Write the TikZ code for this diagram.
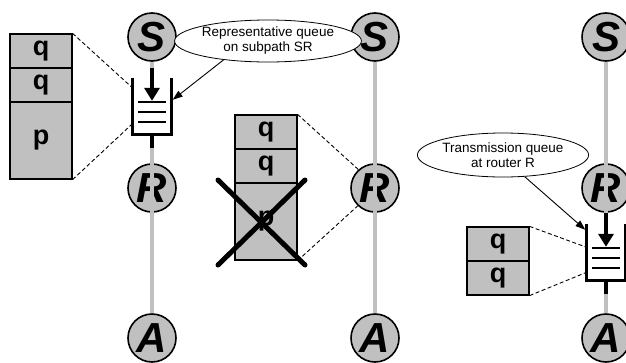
\documentclass[tikz,border=0pt]{standalone}
\usepackage{fontspec}
\setmainfont{Liberation Sans}[
  BoldFont={Liberation Sans Bold},
  ItalicFont={Liberation Sans Italic},
  BoldItalicFont={Liberation Sans Bold Italic}]
\usetikzlibrary{shapes.geometric,arrows.meta}

\definecolor{boxgrey}{RGB}{192,192,192}
\definecolor{pathgrey}{RGB}{192,192,192}

\begin{document}
\begin{tikzpicture}[x=1pt,y=-1pt,
  router/.style={circle,draw=black,line width=1.6pt,fill=boxgrey,minimum size=48pt,inner sep=0pt,
    font=\fontsize{42}{42}\selectfont\bfseries\itshape},
  link/.style={draw=pathgrey,line width=4pt},
  cell/.style={rectangle,draw=black,line width=1.2pt,fill=boxgrey,minimum width=62pt,inner sep=0pt,
    font=\fontsize{27}{27}\selectfont\bfseries},
  qcell/.style={cell,minimum height=34pt},
  pcell/.style={cell,minimum height=77pt},
  qbox/.style={rectangle,fill=white,minimum width=38pt,minimum height=56pt,inner sep=0pt},
  qwall/.style={draw=black,line width=3pt,line join=miter},
  qbar/.style={draw=black,line width=2.4pt},
  qarrow/.style={draw=black,line width=3.4pt,-{Triangle[width=15pt,length=13pt]}},
  stub/.style={draw=black,line width=4pt},
  zoomline/.style={draw=black,line width=0.9pt,dash pattern=on 4pt off 2.5pt},
  bubble/.style={ellipse,draw=black,line width=0.8pt,fill=white,inner sep=0pt,align=center,
    font=\fontsize{13.5}{15}\selectfont},
  pointer/.style={draw=black,line width=0.9pt,-{Triangle[width=7pt,length=10pt]}},
  strike/.style={draw=black,line width=5pt,line cap=round}
]
\useasboundingbox (0,0) rectangle (626,362);

% routers on the three paths
\node[router] (S1) at (152,37) {S};
\node[router] (R1) at (152,188) {R};
\node[router] (A1) at (152,338) {A};
\node[router] (S2) at (375,37) {S};
\node[router] (R2) at (375,188) {R};
\node[router] (A2) at (375,338) {A};
\node[router] (S3) at (606,37) {S};
\node[router] (R3) at (606,188) {R};
\node[router] (A3) at (606,338) {A};

% links between routers
\draw[link] (S1) -- (A1);
\draw[link] (S2) -- (A2);
\draw[link] (S3) -- (A3);

% queue on the first path (subpath SR)
\node[qbox] (Q1) at (152,106) {};
\draw[qwall] (Q1.north west) -- (Q1.south west) -- (Q1.south east) -- (Q1.north east);
\foreach \d in {24,34,44}
  \draw[qbar] ([xshift=5pt,yshift=-\d pt]Q1.north west) -- ([xshift=-5pt,yshift=-\d pt]Q1.north east);
\draw[qarrow] ([yshift=-6pt]S1.south) -- ([yshift=-23pt]Q1.north);
\draw[stub] (Q1.south) -- ++(0,14);

% queue at router R on the third path
\node[qbox] (Q3) at (606,252) {};
\draw[qwall] (Q3.north west) -- (Q3.south west) -- (Q3.south east) -- (Q3.north east);
\foreach \d in {24,34,44}
  \draw[qbar] ([xshift=5pt,yshift=-\d pt]Q3.north west) -- ([xshift=-5pt,yshift=-\d pt]Q3.north east);
\draw[qarrow] (R3.south) -- ([yshift=-23pt]Q3.north);
\draw[stub] (Q3.south) -- ++(0,14);

% queue contents, first path
\node[qcell] (P1a) at (41,51) {q};
\node[qcell] (P1b) at (41,85) {q};
\node[pcell] (P1c) at (41,140.5) {p};
\coordinate (Z1a) at ([xshift=-1.5pt,yshift=-9pt]Q1.north west);
\coordinate (Z1b) at ([xshift=-1.5pt,yshift=-47pt]Q1.north west);
\draw[zoomline] (P1a.north east) -- (Z1a);
\draw[zoomline] (P1c.south east) -- (Z1b);

% queue contents at R, second path (p dropped)
\node[qcell] (P2a) at (266,132) {q};
\node[qcell] (P2b) at (266,166) {q};
\node[pcell] (P2c) at (266,221.5) {p};
\draw[zoomline] (P2a.north east) -- (R2.132);
\draw[zoomline] (P2c.south east) -- (R2.226);
\coordinate (X1) at (218,180);
\coordinate (X2) at (305,265);
\coordinate (X3) at (218,265);
\coordinate (X4) at (305,180);
\draw[strike] (X1) -- (X2);
\draw[strike] (X3) -- (X4);

% queue contents, third path
\node[qcell] (P3a) at (498,244) {q};
\node[qcell] (P3b) at (498,278) {q};
\coordinate (Z3a) at ([xshift=-1.5pt,yshift=-23pt]Q3.north west);
\coordinate (Z3b) at ([xshift=-1.5pt,yshift=-49pt]Q3.north west);
\draw[zoomline] (P3a.north east) -- (Z3a);
\draw[zoomline] (P3b.south east) -- (Z3b);

% callouts
\node[bubble,minimum width=156pt,minimum height=42pt] (E1) at (268,41)
  {Representative queue\\on subpath SR};
\coordinate (T1) at ([xshift=1.5pt,yshift=-22pt]Q1.north east);
\draw[pointer] (E1.203) -- (T1);

\node[bubble,minimum width=158pt,minimum height=44pt] (E2) at (503,155)
  {Transmission queue\\at router R};
\coordinate (T3) at ([xshift=-1.5pt,yshift=-6pt]Q3.north west);
\draw[pointer] (E2.-45) -- (T3);
\end{tikzpicture}
\end{document}
